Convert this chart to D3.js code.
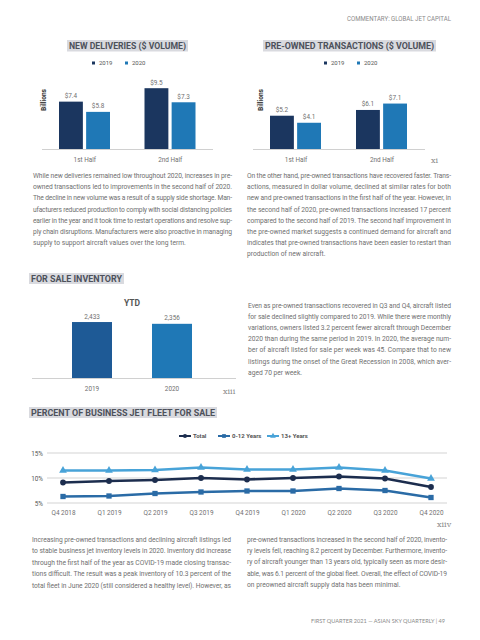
<!DOCTYPE html>
<html><head><meta charset="utf-8">
<script src="https://cdn.jsdelivr.net/npm/d3@7"></script>
<style>html,body{margin:0;padding:0;background:#fff;}svg{display:block;font-family:Roboto,"Noto Sans",sans-serif;}</style>
</head><body><svg id="c" width="480" height="640"></svg>
<script>
// ---------- data ----------
const halves = ["1st Half", "2nd Half"];
const years = ["2019", "2020"];
const newDeliveries2019 = [7.4, 9.5];
const newDeliveries2020 = [5.8, 7.3];
const preOwned2019 = [5.2, 6.1];
const preOwned2020 = [4.1, 7.1];
const inventoryYears = ["2019", "2020"];
const inventoryValues = [2433, 2356];
const quarters = ["Q4 2018","Q1 2019","Q2 2019","Q3 2019","Q4 2019","Q1 2020","Q2 2020","Q3 2020","Q4 2020"];
const totalPct = [9.1, 9.4, 9.6, 10.0, 9.7, 10.0, 10.3, 9.9, 8.2];
const young012Pct = [6.3, 6.4, 6.9, 7.2, 7.4, 7.4, 7.9, 7.5, 6.1];
const old13Pct = [11.5, 11.5, 11.6, 12.1, 11.7, 11.7, 12.1, 11.5, 9.9];
const pctTicks = [5, 10, 15];

const para1 = ["While new deliveries remained low throughout 2020, increases in pre-",
"owned transactions led to improvements in the second half of 2020.",
"The decline in new volume was a result of a supply side shortage. Man-",
"ufacturers reduced production to comply with social distancing policies",
"earlier in the year and it took time to restart operations and resolve sup-",
"ply chain disruptions. Manufacturers were also proactive in managing",
"supply to support aircraft values over the long term."];
const para2 = ["On the other hand, pre-owned transactions have recovered faster. Trans-",
"actions, measured in dollar volume, declined at similar rates for both",
"new and pre-owned transactions in the first half of the year. However, in",
"the second half of 2020, pre-owned transactions increased 17 percent",
"compared to the second half of 2019. The second half improvement in",
"the pre-owned market suggests a continued demand for aircraft and",
"indicates that pre-owned transactions have been easier to restart than",
"production of new aircraft."];
const para3 = ["Even as pre-owned transactions recovered in Q3 and Q4, aircraft listed",
"for sale declined slightly compared to 2019. While there were monthly",
"variations, owners listed 3.2 percent fewer aircraft through December",
"2020 than during the same period in 2019. In 2020, the average num-",
"ber of aircraft listed for sale per week was 45. Compare that to new",
"listings during the onset of the Great Recession in 2008, which aver-",
"aged 70 per week."];
const para4 = ["Increasing pre-owned transactions and declining aircraft listings led",
"to stable business jet inventory levels in 2020. Inventory did increase",
"through the first half of the year as COVID-19 made closing transac-",
"tions difficult. The result was a peak inventory of 10.3 percent of the",
"total fleet in June 2020 (still considered a healthy level). However, as"];
const para5 = ["pre-owned transactions increased in the second half of 2020, invento-",
"ry levels fell, reaching 8.2 percent by December. Furthermore, invento-",
"ry of aircraft younger than 13 years old, typically seen as more desir-",
"able, was 6.1 percent of the global fleet. Overall, the effect of COVID-19",
"on preowned aircraft supply data has been minimal."];

// ---------- styles ----------
const C2019 = "#1b365f", C2020 = "#1f78b6";
const textGray = "#707070";
const svg = d3.select("#c");

svg.append("text").attr("x", 347).attr("y", 20.5).attr("font-size", 6.6).attr("fill", "#8a8a8a")
  .attr("textLength", 104).attr("lengthAdjust", "spacingAndGlyphs").text("COMMENTARY: GLOBAL JET CAPITAL");

function titleBox(x0, x1, y0, y1, label) {
  svg.append("rect").attr("x", x0).attr("y", y0).attr("width", x1 - x0).attr("height", y1 - y0).attr("fill", "#d9dadf");
  svg.append("text").attr("x", x0 + 2).attr("y", y1 - 2.2).attr("font-size", 9.6).attr("font-weight", 700)
    .attr("fill", "#4d515b").attr("textLength", x1 - x0 - 4).attr("lengthAdjust", "spacingAndGlyphs").text(label);
}

function paragraph(lines, x0, x1, y0, dy, lastJustified) {
  const g = svg.append("g");
  lines.forEach((l, i) => {
    const t = g.append("text").attr("x", x0).attr("y", y0 + i * dy).attr("font-size", 6.7).attr("fill", textGray).text(l);
    if (i < lines.length - 1 || lastJustified) t.attr("textLength", x1 - x0).attr("lengthAdjust", "spacing");
  });
}

function roman(x, y, s) {
  svg.append("text").attr("x", x).attr("y", y).attr("font-family", "'DejaVu Serif','Liberation Serif',serif")
    .attr("font-size", 8).attr("fill", "#8a8a8a").text(s);
}

// ---------- grouped bar charts ----------
function groupedBars(opts) {
  const { title, tx0, tx1, x0, x1, v19, v20, legendX, billX } = opts;
  titleBox(tx0, tx1, 40, 51.5, title);
  [[legendX, C2019, "2019"], [legendX + 33, C2020, "2020"]].forEach(([lx, col, lab]) => {
    svg.append("rect").attr("x", lx).attr("y", 61.5).attr("width", 3).attr("height", 3).attr("fill", col);
    svg.append("text").attr("x", lx + 7).attr("y", 65.2).attr("font-size", 6).attr("fill", "#555").text(lab);
  });
  const x = d3.scaleBand().domain(halves).range([x0, x1]);
  const xi = d3.scaleBand().domain(years).range([17, 68]).paddingInner(0.12);
  const y = d3.scaleLinear().domain([0, 10]).range([149, 85]);
  const data = halves.map((h, i) => ({ h, vals: [{ yr: "2019", v: v19[i] }, { yr: "2020", v: v20[i] }] }));
  const g = svg.append("g");
  const grp = g.selectAll("g.h").data(data).join("g").attr("transform", d => `translate(${x(d.h)},0)`);
  grp.selectAll("rect").data(d => d.vals).join("rect")
    .attr("x", d => xi(d.yr)).attr("width", xi.bandwidth())
    .attr("y", d => y(d.v)).attr("height", d => y(0) - y(d.v))
    .attr("fill", d => d.yr === "2019" ? C2019 : C2020);
  grp.selectAll("text.v").data(d => d.vals).join("text").attr("class", "v")
    .attr("x", d => xi(d.yr) + xi.bandwidth() / 2).attr("y", d => y(d.v) - 3.5)
    .attr("text-anchor", "middle").attr("font-size", 6.4).attr("fill", textGray).text(d => "$" + d.v.toFixed(1));
  g.append("line").attr("x1", x0).attr("x2", x1).attr("y1", y(0) + 0.5).attr("y2", y(0) + 0.5).attr("stroke", "#d0d0d0").attr("stroke-width", 1);
  const axg = g.append("g").attr("transform", `translate(0,${y(0)})`).call(d3.axisBottom(x).tickSize(0).tickPadding(8.5));
  axg.select(".domain").remove();
  axg.selectAll("text").attr("font-size", 6.4).attr("fill", textGray).attr("font-family", "Roboto,sans-serif");
  svg.append("text").attr("transform", `translate(${billX},100) rotate(-90)`).attr("text-anchor", "middle")
    .attr("font-size", 6.6).attr("font-weight", 700).attr("fill", "#333").text("Billions");
}

groupedBars({ title: "NEW DELIVERIES ($ VOLUME)", tx0: 67, tx1: 188, x0: 42, x1: 213,
  v19: newDeliveries2019, v20: newDeliveries2020, legendX: 92, billX: 45.5 });
groupedBars({ title: "PRE-OWNED TRANSACTIONS ($ VOLUME)", tx0: 263, tx1: 436, x0: 253, x1: 425,
  v19: preOwned2019, v20: preOwned2020, legendX: 324, billX: 262.5 });
roman(431, 163, "xi");

paragraph(para1, 33, 232, 178, 11.2, false);
paragraph(para2, 247, 451, 178, 11.2, false);

// ---------- for sale inventory ----------
titleBox(29, 124, 273, 284, "FOR SALE INVENTORY");
svg.append("text").attr("x", 132).attr("y", 305.5).attr("text-anchor", "middle").attr("font-size", 8.5)
  .attr("font-weight", 700).attr("fill", "#555").text("YTD");
{
  const x = d3.scaleBand().domain(inventoryYears).range([32, 232]).padding(0.5);
  const y = d3.scaleLinear().domain([0, 3000]).range([378, 309]);
  const invCols = ["#1e5a96", "#1f78b6"];
  const data = inventoryYears.map((yr, i) => ({ yr, v: inventoryValues[i], c: invCols[i] }));
  const g = svg.append("g");
  g.selectAll("rect").data(data).join("rect").attr("x", d => x(d.yr)).attr("width", x.bandwidth())
    .attr("y", d => y(d.v)).attr("height", d => y(0) - y(d.v)).attr("fill", d => d.c);
  g.selectAll("text.v").data(data).join("text").attr("class", "v").attr("x", d => x(d.yr) + x.bandwidth() / 2)
    .attr("y", d => y(d.v) - 3.5).attr("text-anchor", "middle").attr("font-size", 6.4).attr("fill", textGray)
    .text(d => d3.format(",")(d.v));
  g.append("line").attr("x1", 32).attr("x2", 236).attr("y1", y(0) + 0.5).attr("y2", y(0) + 0.5).attr("stroke", "#d0d0d0");
  const axg = g.append("g").attr("transform", `translate(0,${y(0)})`).call(d3.axisBottom(x).tickSize(0).tickPadding(8));
  axg.select(".domain").remove();
  axg.selectAll("text").attr("font-size", 6.4).attr("fill", textGray).attr("font-family", "Roboto,sans-serif");
}
roman(223, 394, "xiii");
paragraph(para3, 248, 451, 307.5, 11.2, false);

// ---------- percent of fleet for sale ----------
titleBox(29, 217, 407, 418, "PERCENT OF BUSINESS JET FLEET FOR SALE");
{
  const x = d3.scalePoint().domain(quarters).range([63, 431]);
  const y = d3.scaleLinear().domain([5, 15]).range([503, 453]);
  const g = svg.append("g");
  g.selectAll("line.grid").data(pctTicks).join("line").attr("class", "grid")
    .attr("x1", 47).attr("x2", 447).attr("y1", d => y(d)).attr("y2", d => y(d)).attr("stroke", "#e2e2e2").attr("stroke-width", 1.5);
  const ya = g.append("g").attr("transform", "translate(43,0)")
    .call(d3.axisLeft(y).tickValues(pctTicks).tickSize(0).tickPadding(0).tickFormat(d => d + "%"));
  ya.select(".domain").remove();
  ya.selectAll("text").attr("font-size", 6.4).attr("fill", "#555").attr("font-family", "Roboto,sans-serif");
  const xa = g.append("g").attr("transform", "translate(0,503)").call(d3.axisBottom(x).tickSize(0).tickPadding(7));
  xa.select(".domain").remove();
  xa.selectAll("text").attr("font-size", 6.4).attr("fill", textGray).attr("font-family", "Roboto,sans-serif");

  const series = [
    { name: "Total", vals: totalPct, color: "#1c2d4e", sym: d3.symbolCircle, size: 26 },
    { name: "0-12 Years", vals: young012Pct, color: "#2a6ba6", sym: d3.symbolSquare, size: 28 },
    { name: "13+ Years", vals: old13Pct, color: "#48a3d8", sym: d3.symbolTriangle, size: 26 }
  ];
  const line = d3.line().x((d, i) => x(quarters[i])).y(d => y(d));
  series.slice().reverse().forEach(s => {
    g.append("path").datum(s.vals).attr("d", line).attr("fill", "none").attr("stroke", s.color).attr("stroke-width", 2.7);
    g.selectAll(null).data(s.vals).join("path")
      .attr("transform", (d, i) => `translate(${x(quarters[i])},${y(d)})`)
      .attr("d", d3.symbol().type(s.sym).size(s.size)).attr("fill", s.color);
  });
  const legX = [179, 218, 267];
  series.forEach((s, i) => {
    const lx = legX[i];
    svg.append("line").attr("x1", lx).attr("x2", lx + 12).attr("y1", 436).attr("y2", 436).attr("stroke", s.color).attr("stroke-width", 2);
    svg.append("path").attr("transform", `translate(${lx + 6},436)`).attr("d", d3.symbol().type(s.sym).size(14)).attr("fill", s.color);
    svg.append("text").attr("x", lx + 14).attr("y", 438.2).attr("font-size", 6).attr("font-weight", 700)
      .attr("fill", "#555").text(s.name);
  });
}
roman(437, 527, "xiiv");

paragraph(para4, 32, 231, 542, 11.4, true);
paragraph(para5, 247, 447, 542, 11.2, false);

svg.append("text").attr("x", 311).attr("y", 623).attr("font-family", "Lato,'Open Sans',sans-serif").attr("font-size", 6)
  .attr("fill", "#8a8a8a").attr("textLength", 134).attr("lengthAdjust", "spacingAndGlyphs")
  .text("FIRST QUARTER 2021 — ASIAN SKY QUARTERLY | 49");
</script></body></html>
